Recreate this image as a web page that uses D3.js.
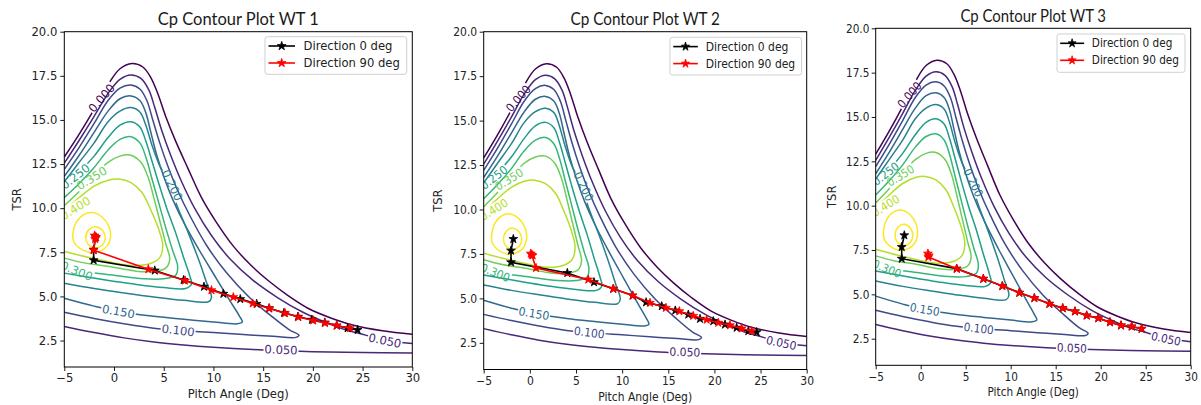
<!DOCTYPE html>
<html><head><meta charset="utf-8">
<script src="https://cdn.jsdelivr.net/npm/d3@7"></script>
<style>body{margin:0;background:#fff}</style>
</head><body>
<svg id="c" width="1201" height="405"></svg>
<script>
const xTicks=[-5,0,5,10,15,20,25,30];
const yTicks=[2.5,5,7.5,10,12.5,15,17.5,20];
const titles=["Cp Contour Plot WT 1","Cp Contour Plot WT 2","Cp Contour Plot WT 3"];
const seriesNames=["Direction 0 deg","Direction 90 deg"];
const levels=[0,0.05,0.1,0.15,0.2,0.25,0.3,0.35,0.4,0.45];

// contour lines: [pitch, tsr]
const c000=[[-5,12.9],[-3.5,14.2],[-2,15.6],[-0.6,17.0],[0.6,17.9],[1.8,18.2],[2.9,18.0],[3.7,17.4],[4.4,16.5],[5.2,15.2],[6.2,13.8],[7.4,12.3],[8.8,10.6],[10.3,9.2],[12,7.85],[13.8,6.75],[15.5,5.9],[17.5,5.05],[19.6,4.3],[21.8,3.78],[24,3.38],[27,3.05],[30,2.85]];
const c050=[[-5,12.55],[-3.5,13.85],[-2,15.2],[-0.6,16.5],[0.6,17.3],[1.7,17.55],[2.7,17.35],[3.5,16.7],[4.1,15.7],[4.8,14.4],[5.7,13.0],[6.8,11.5],[8.2,9.9],[9.8,8.45],[11.7,7.1],[13.9,5.95],[16.4,4.95],[19,4.1],[21.4,3.5],[23.2,3.12],[24.5,2.93],[27.3,2.52],[30,2.33]];
const c050b=[[-5,3.3],[-2,2.95],[1,2.65],[4,2.42],[7,2.25],[10,2.12],[14,1.99],[17,1.92],[20,1.87],[25,1.82],[30,1.79]];
const c100=[[-5,12.2],[-3.5,13.45],[-2,14.8],[-0.6,16.1],[0.6,16.8],[1.7,16.98],[2.6,16.75],[3.3,16.1],[3.9,15.0],[4.6,13.7],[5.4,12.4],[6.4,11.0],[7.7,9.5],[9.3,7.9],[11.3,6.35],[13.6,4.95],[15.9,3.85],[17.6,3.12],[18.6,2.8],[18.3,2.68],[16,2.74],[13,2.84],[10,2.95],[7,3.06],[4,3.2],[1,3.45],[-2,3.75],[-5,4.1]];
const c150=[[-5,11.8],[-3.5,13.0],[-2,14.3],[-0.6,15.5],[0.6,16.2],[1.7,16.36],[2.6,16.1],[3.2,15.4],[3.7,14.3],[4.3,13.0],[5.0,11.8],[5.9,10.5],[7.1,9.1],[8.6,7.6],[10.2,6.1],[11.6,4.8],[12.6,3.9],[12.9,3.55],[12.4,3.45],[10,3.55],[7,3.7],[4,3.87],[0.4,4.15],[-2,4.45],[-5,4.9]];
const c200=[[-5,11.5],[-3.5,12.6],[-2,13.7],[-0.6,14.9],[0.6,15.5],[1.7,15.7],[2.6,15.45],[3.2,14.7],[3.8,13.6],[4.6,12.4],[5.5,11.5],[6.3,10.2],[7.4,8.7],[8.5,7.1],[9.3,5.8],[9.8,4.95],[9.5,4.7],[7,4.78],[4,4.97],[1,5.2],[-2,5.45],[-5,5.75]];
const c250=[[-5,11.15],[-3.9,11.8],[-2,12.95],[-0.6,14.0],[0.6,14.7],[1.7,14.9],[2.6,14.6],[3.2,13.8],[3.8,12.7],[4.5,11.4],[5.3,10.0],[6.2,8.6],[7.0,7.2],[7.6,6.2],[7.8,5.7],[7.2,5.45],[5,5.5],[2,5.7],[-1,5.95],[-5,6.32]];
const c300=[[-5,10.6],[-3.5,11.4],[-2,12.3],[-0.6,13.3],[0.6,13.9],[1.7,14.05],[2.6,13.7],[3.2,12.9],[3.8,11.7],[4.5,10.3],[5.2,8.9],[5.9,7.6],[6.4,6.7],[6.2,6.2],[5,6.0],[3,6.0],[0,6.2],[-3.75,6.5],[-5,6.79]];
const c350=[[-5,10.15],[-3.5,10.95],[-2.25,11.7],[-0.6,12.6],[0.6,12.95],[1.7,13.0],[2.7,12.6],[3.4,11.8],[4.0,10.6],[4.6,9.3],[5.2,8.0],[5.6,7.1],[5.2,6.6],[3.8,6.4],[2,6.45],[-0.5,6.7],[-3,6.9],[-5,7.17]];
const c400=[[-5,9.85],[-3.5,10.6],[-2,11.25],[-0.5,11.6],[0.5,11.65],[1.7,11.45],[2.8,10.9],[3.7,9.9],[4.5,8.8],[4.9,7.9],[4.6,7.2],[3.6,6.85],[2,6.75],[0,6.9],[-2.5,7.2],[-5,7.54]];
const c450=[[-4.15,8.5],[-3.8,9.2],[-3,9.65],[-2.1,9.75],[-1.2,9.5],[-0.5,8.95],[-0.35,8.35],[-0.7,7.85],[-1.5,7.55],[-2.5,7.5],[-3.5,7.75],[-4.05,8.1]];
const c450in=[[-2.85,8.35],[-2.5,8.8],[-1.8,8.95],[-1.1,8.7],[-0.88,8.3],[-1.2,7.9],[-1.9,7.75],[-2.6,7.95]];

const contourLines=[
  {level:0,pts:c000},{level:0.05,pts:c050},{level:0.05,pts:c050b},{level:0.1,pts:c100},
  {level:0.15,pts:c150},{level:0.2,pts:c200},{level:0.25,pts:c250},{level:0.3,pts:c300},
  {level:0.35,pts:c350},{level:0.4,pts:c400},{level:0.45,pts:c450,closed:true},{level:0.45,pts:c450in,closed:true}
];
// contour labels: [level, pitch, tsr, angle]
const contourLabels=[
  [0,-1.25,16.25,-49],[0.05,16.8,1.98,2],[0.05,27.25,2.5,12],[0.1,6.45,3.08,7],
  [0.15,0.45,4.15,10],[0.2,5.85,11.3,64],[0.25,-3.9,11.8,-38],[0.3,-3.75,6.45,22],
  [0.35,-2.25,11.7,-32],[0.4,-3.9,10.0,-32]
];

// marker series [pitch, tsr]
const wt1Dir0=[[-1.85,8.35],[-2.05,7.65],[-2.05,7.05],[4.1,6.47],[7.0,5.93],[9.05,5.55],[11.0,5.15],[12.7,4.85],[14.35,4.58],[15.6,4.33],[17.1,4.07],[18.5,3.85],[19.9,3.68],[21.2,3.52],[22.4,3.35],[23.5,3.2],[24.5,3.1]];
const wt1Dir90=[[-1.95,8.45],[-1.8,8.35],[-1.9,8.25],[-2.05,7.62],[3.45,6.54],[7.15,5.9],[9.8,5.35],[12.0,4.96],[13.95,4.6],[15.62,4.32],[17.2,4.05],[18.54,3.83],[20.04,3.64],[21.22,3.49],[22.39,3.35],[23.73,3.2]];
const wt2Dir0=[[-1.79,8.34],[-2.04,7.69],[-2.04,7.03],[4.06,6.43],[6.95,5.91],[9.04,5.54],[11.14,5.16],[12.6,4.78],[14.29,4.56],[15.76,4.32],[17.17,4.09],[18.44,3.85],[19.88,3.72],[21.15,3.53],[22.41,3.35],[23.68,3.16],[24.58,3.1]];
const wt2Dir90=[[0.1,7.52],[0.3,7.42],[0.2,7.45],[0.67,6.71],[6.33,6.06],[9.04,5.54],[11.14,5.16],[13.02,4.75],[14.75,4.47],[16.2,4.28],[17.71,4.02],[19.16,3.8],[20.42,3.63],[21.69,3.49],[22.95,3.31],[24.04,3.16]];
const wt3Dir0=[[-1.82,8.33],[-2.11,7.67],[-2.11,7.01],[4.0,6.45],[6.96,5.88],[9.07,5.47],[10.96,5.09],[12.63,4.79],[14.3,4.47],[15.78,4.22],[17.14,4.04],[18.44,3.81],[19.73,3.66],[21.03,3.43],[22.26,3.25],[23.44,3.19],[24.55,3.06]];
const wt3Dir90=[[0.8,7.3],[0.9,7.2],[0.85,7.1],[4.0,6.45],[6.96,5.88],[9.07,5.47],[10.96,5.09],[12.63,4.79],[14.3,4.47],[15.78,4.22],[17.14,4.04],[18.44,3.81],[19.73,3.66],[21.03,3.43],[22.26,3.25],[23.44,3.19],[24.55,3.06]];

const panelSeries=[[wt1Dir0,wt1Dir90],[wt2Dir0,wt2Dir90],[wt3Dir0,wt3Dir90]];

// ---------------- layout -----------------
const layout=[
  {left:64.3,right:412.3,top:31.7,bottom:367,titleY:25,ylabX:17,leg:[265,36.7,141.7,37.6]},
  {left:483.7,right:806.7,top:31.7,bottom:369.5,titleY:25,ylabX:438,leg:[670,37.3,131.5,37.7]},
  {left:875.7,right:1190.7,top:28.3,bottom:365.3,titleY:22,ylabX:831.5,leg:[1057,34,128,38.3]}
];
const seriesColors=["#000000","#ff0000"];
const levelColor=l=>d3.interpolateViridis((l-levels[0])/(levels[levels.length-1]-levels[0]));
const FONT="DejaVu Sans, sans-serif";
const FS=11.6;

const svg=d3.select("#c");
const defs=svg.append("defs");
const star=d3.symbol().type(d3.symbolStar).size(24);

layout.forEach((L,pi)=>{
  const sx=(L.right-L.left)/348;
  const x=d3.scaleLinear().domain([-5,30]).range([L.left,L.right]);
  const y=d3.scaleLinear().domain([1,20]).range([L.bottom,L.top]);
  const g=svg.append("g");
  const cid="clip"+pi;
  defs.append("clipPath").attr("id",cid).append("rect")
    .attr("x",L.left).attr("y",L.top).attr("width",L.right-L.left).attr("height",L.bottom-L.top);
  const plot=g.append("g").attr("clip-path",`url(#${cid})`);
  const line=d3.line().x(d=>x(d[0])).y(d=>y(d[1])).curve(d3.curveCatmullRom.alpha(0.5));
  const lineC=d3.line().x(d=>x(d[0])).y(d=>y(d[1])).curve(d3.curveCatmullRomClosed.alpha(0.5));

  const labs=contourLabels.map(([lv,px,py,ang])=>({lv,cx:x(px),cy:y(py),ang,txt:lv.toFixed(3)}));
  contourLines.forEach((c,ci)=>{
    const mid="m"+pi+"_"+ci;
    const m=defs.append("mask").attr("id",mid).attr("maskUnits","userSpaceOnUse")
      .attr("x",0).attr("y",0).attr("width",1201).attr("height",405);
    m.append("rect").attr("x",0).attr("y",0).attr("width",1201).attr("height",405).attr("fill","#fff");
    labs.filter(l=>l.lv===c.level).forEach(l=>{
      m.append("rect").attr("x",-17.5).attr("y",-6).attr("width",35).attr("height",12).attr("fill","#000")
        .attr("transform",`translate(${l.cx},${l.cy}) rotate(${l.ang}) scale(${sx},1)`);
    });
    plot.append("path").attr("d",c.closed?lineC(c.pts):line(c.pts))
      .attr("fill","none").attr("stroke",levelColor(c.level)).attr("stroke-width",1.5)
      .attr("mask",`url(#${mid})`);
  });
  labs.forEach(l=>{
    plot.append("text").attr("transform",`translate(${l.cx},${l.cy}) rotate(${l.ang}) scale(${sx},1)`)
      .attr("text-anchor","middle").attr("dy","0.36em").attr("font-family",FONT).attr("font-size",FS)
      .attr("fill",levelColor(l.lv)).text(l.txt);
  });

  panelSeries[pi].forEach((s,si)=>{
    const lg=d3.line().x(d=>x(d[0])).y(d=>y(d[1]));
    plot.append("path").attr("d",lg(s)).attr("fill","none").attr("stroke",seriesColors[si]).attr("stroke-width",1.6);
    plot.selectAll(null).data(s).enter().append("path").attr("d",star)
      .attr("transform",d=>`translate(${x(d[0])},${y(d[1])})`)
      .attr("fill",seriesColors[si]).attr("stroke",seriesColors[si]).attr("stroke-width",0.8);
  });

  const ax=g.append("g").attr("transform",`translate(0,${L.bottom})`)
    .call(d3.axisBottom(x).tickValues(xTicks).tickFormat(d=>d<0?"\u2212"+Math.abs(d):d).tickSize(4).tickSizeOuter(0).tickPadding(3));
  const ay=g.append("g").attr("transform",`translate(${L.left},0)`)
    .call(d3.axisLeft(y).tickValues(yTicks).tickFormat(d3.format(".1f")).tickSize(4).tickSizeOuter(0).tickPadding(3));
  [ax,ay].forEach(a=>{
    a.select(".domain").remove();
    a.selectAll("line").attr("stroke","#000").attr("stroke-width",0.9);
    a.selectAll("text").attr("font-family",FONT).attr("font-size",FS).attr("fill","#222");
  });
  ax.selectAll("text").attr("transform",`scale(${sx},1)`);
  ay.selectAll("text").attr("transform",`scale(${sx},1)`);
  g.append("rect").attr("x",L.left).attr("y",L.top).attr("width",L.right-L.left).attr("height",L.bottom-L.top)
    .attr("fill","none").attr("stroke","#000").attr("stroke-width",1);

  g.append("text").attr("transform",`translate(${(L.left+L.right)/2},${L.bottom+31}) scale(${sx},1)`)
    .attr("text-anchor","middle").attr("font-family",FONT).attr("font-size",FS).attr("fill","#222").text("Pitch Angle (Deg)");
  g.append("text").attr("transform",`translate(${L.ylabX},${(L.top+L.bottom)/2}) rotate(-90)`)
    .attr("text-anchor","middle").attr("dy","0.36em").attr("font-family",FONT).attr("font-size",FS).attr("fill","#222").text("TSR");
  g.append("text").attr("transform",`translate(${(L.left+L.right)/2},${L.titleY}) scale(${sx},1)`)
    .attr("text-anchor","middle").attr("font-family","Lato, 'Open Sans', sans-serif").attr("font-size",16.5).attr("fill","#1a1a1a").text(titles[pi]);

  const [lx,ly,lw,lh]=L.leg;
  const lgG=g.append("g").attr("transform",`translate(${lx},${ly}) scale(${sx},1)`);
  lgG.append("rect").attr("x",0).attr("y",0).attr("width",lw/sx).attr("height",lh).attr("rx",2.5)
    .attr("fill","#fff").attr("fill-opacity",0.85).attr("stroke","#cfcfcf").attr("stroke-width",1);
  seriesNames.forEach((nm,si)=>{
    const yy=9.3+si*17;
    lgG.append("line").attr("x1",3.5).attr("x2",30).attr("y1",yy).attr("y2",yy).attr("stroke",seriesColors[si]).attr("stroke-width",1.6);
    lgG.append("path").attr("d",star).attr("transform",`translate(16.7,${yy})`).attr("fill",seriesColors[si]).attr("stroke",seriesColors[si]).attr("stroke-width",0.8);
    lgG.append("text").attr("x",38.5).attr("y",yy).attr("dy","0.36em").attr("font-family",FONT).attr("font-size",FS).attr("fill","#222").text(nm);
  });
});
</script>
</body></html>
